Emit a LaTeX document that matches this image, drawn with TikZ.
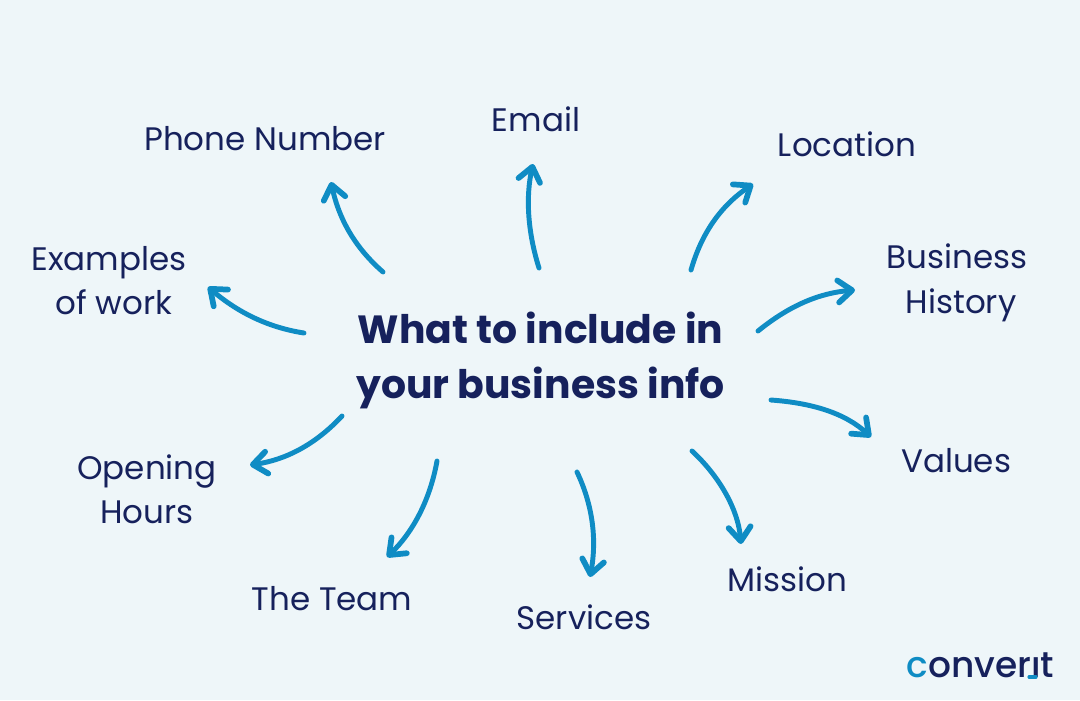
\documentclass[tikz,border=0pt]{standalone}
\usepackage{fontspec}
\usetikzlibrary{arrows.meta}
\setmainfont{Poppins}
\newfontfamily\logofont{Poppins Medium}
\definecolor{bgpale}{HTML}{EEF6F9}
\definecolor{navytext}{HTML}{16215C}
\definecolor{bluearrow}{HTML}{0F8CC4}
\tikzstyle{arrow} = [line width=3.7pt,line cap=round,bluearrow,-{Straight Barb[length=10.5pt,width=16.5pt,line width=4.3pt,round]}]
\tikzstyle{label} = [navytext,font=\fontsize{24.4}{33.3}\selectfont,align=center,inner sep=0pt]
\tikzstyle{title} = [navytext,font=\fontsize{29.5}{41.5}\selectfont\bfseries,align=center,inner sep=0pt]

\begin{document}
\begin{tikzpicture}[x=0.75pt,y=-0.75pt]
            \fill[bgpale] (0,0) rectangle (1080,700);
            \useasboundingbox (0,0) rectangle (1080,700);

            \node (info) [title] at (540.5,360.5) {What to include in\hspace{3pt}\\your business info};

            \node (phone) [label] at (265,139) {Phone Number};
            \node (email) [label] at (536,119) {Email};
            \node (location) [label] at (847,144) {Location};
            \node (history) [label] at (957,283) {Business\\\hspace{6pt}History};
            \node (values) [label] at (956,461) {Values};
            \node (mission) [label] at (787,579) {Mission};
            \node (services) [label] at (584,617) {Services};
            \node (team) [label] at (332,599) {The Team};
            \node (hours) [label] at (147,489) {Opening\\Hours};
            \node (work) [label] at (109,280.5) {Examples\\\hspace{7pt}of work};

            \node (logo) [navytext,inner sep=0pt,font=\logofont\fontsize{27}{27}\selectfont] at (980.5,665) {\textcolor{bluearrow}{c}onver\i t};
            \coordinate (flicka) at (1029,677);
            \coordinate (flickb) at (1036,677);
            \draw [bluearrow,line width=2.4pt,line cap=round] (flicka) -- (flickb);

            \coordinate (phonea) at (383,272);
            \coordinate (phoneb) at (331,182);
            \coordinate (emaila) at (539,268);
            \coordinate (emailb) at (533,164);
            \coordinate (locationa) at (691,270);
            \coordinate (locationb) at (753,184);
            \coordinate (historya) at (758,331);
            \coordinate (historyb) at (855,290);
            \coordinate (valuesa) at (771,400);
            \coordinate (valuesb) at (871,437);
            \coordinate (missiona) at (692,451);
            \coordinate (missionb) at (741,544);
            \coordinate (servicesa) at (577,472);
            \coordinate (servicesb) at (590,577);
            \coordinate (teama) at (437,461);
            \coordinate (teamb) at (387,557);
            \coordinate (hoursa) at (342,416);
            \coordinate (hoursb) at (250,465);
            \coordinate (worka) at (304,333);
            \coordinate (workb) at (208,287);

            \draw [arrow] (phonea) .. controls (352,245) and (338,215) .. (phoneb);
            \draw [arrow] (emaila) .. controls (527,230) and (526,195) .. (emailb);
            \draw [arrow] (locationa) .. controls (703,228) and (725,203) .. (locationb);
            \draw [arrow] (historya) .. controls (790,305) and (820,293) .. (historyb);
            \draw [arrow] (valuesa) .. controls (812,403) and (845,413) .. (valuesb);
            \draw [arrow] (missiona) .. controls (718,475) and (738,508) .. (missionb);
            \draw [arrow] (servicesa) .. controls (595,510) and (596,545) .. (servicesb);
            \draw [arrow] (teama) .. controls (430,500) and (413,532) .. (teamb);
            \draw [arrow] (hoursa) .. controls (315,445) and (285,460) .. (hoursb);
            \draw [arrow] (worka) .. controls (265,327) and (235,310) .. (workb);
\end{tikzpicture}
\end{document}
